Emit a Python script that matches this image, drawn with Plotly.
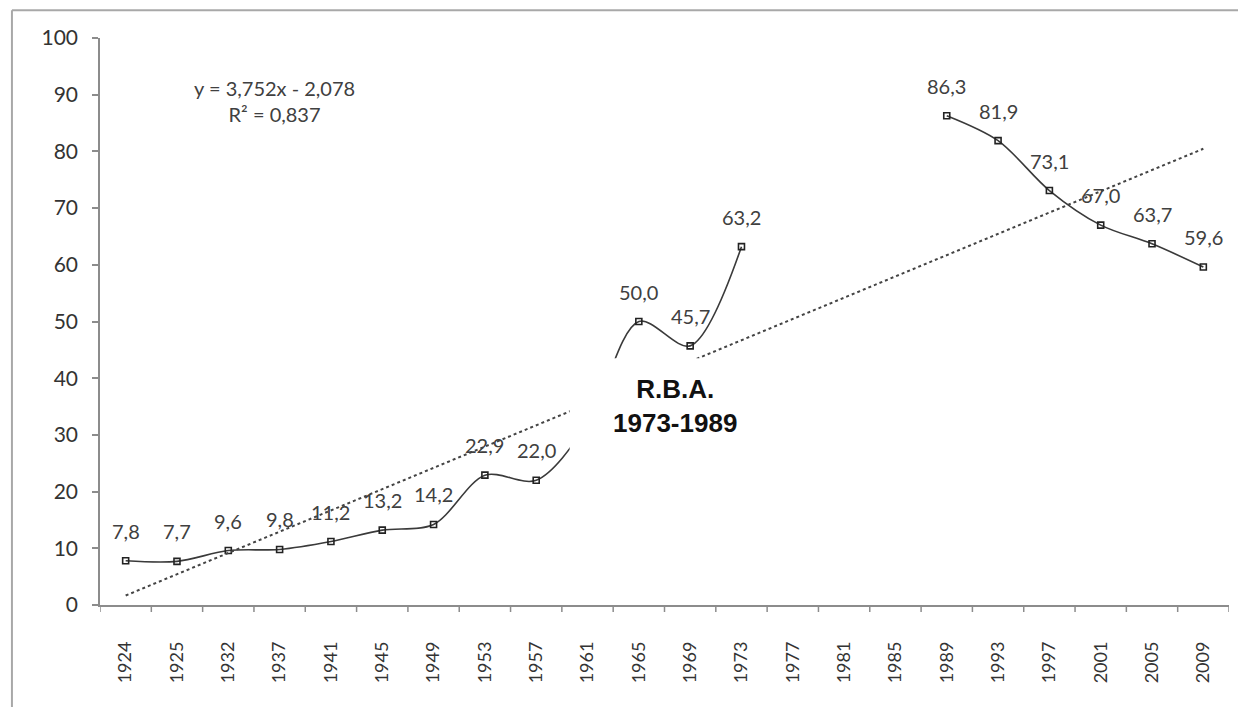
import plotly.graph_objects as go

# category axis (years) and the series values; None = no data for that year
years = ["1924", "1925", "1932", "1937", "1941", "1945", "1949", "1953", "1957",
         "1961", "1965", "1969", "1973", "1977", "1981", "1985", "1989", "1993",
         "1997", "2001", "2005", "2009"]
values = [7.8, 7.7, 9.6, 9.8, 11.2, 13.2, 14.2, 22.9, 22.0,
          32.0, 50.0, 45.7, 63.2, None, None, None, 86.3, 81.9,
          73.1, 67.0, 63.7, 59.6]
# the 1961 point sits under the pasted R.B.A. box, so its label is not shown
hidden_labels = ["1961"]

# linear trendline as printed on the chart
trend_slope = 3.752
trend_intercept = -2.078
trend_r2 = 0.837

y_ticks = list(range(0, 101, 10))


def comma(v, digits=1):
    return f"{v:.{digits}f}".replace(".", ",")


n = len(years)
trend_values = [trend_slope * (i + 1) + trend_intercept for i in range(n)]

fig = go.Figure()

# main series, smoothed like the Excel original
fig.add_trace(go.Scatter(
    x=years, y=values,
    mode="lines+markers",
    line=dict(color="#3a3a3a", width=1.6, shape="spline", smoothing=0.9),
    marker=dict(symbol="square-open", size=6, color="#222222",
                line=dict(color="#222222", width=1.6)),
    connectgaps=False,
    hoverinfo="x+y",
))

# dotted linear trendline
fig.add_trace(go.Scatter(
    x=years, y=trend_values,
    mode="lines",
    line=dict(color="#444444", width=2, dash="dot"),
    hoverinfo="skip",
))

label_font = dict(family="Lato, Open Sans, sans-serif", size=20, color="#404040")
annotations = []
for i, (yr, v) in enumerate(zip(years, values)):
    if v is None or yr in hidden_labels:
        continue
    # category axis: place by index, plotly reads "1924" as a position otherwise
    annotations.append(dict(x=i, y=v, text=comma(v), showarrow=False,
                            xanchor="center", yanchor="middle",
                            yshift=30, font=label_font))

eq_text = (f"y = {comma(trend_slope, 3)}x - {comma(abs(trend_intercept), 3)}<br>"
           f"R² = {comma(trend_r2, 3)}")
annotations.append(dict(
    xref="paper", yref="paper", x=0.155, y=0.889,
    xanchor="center", yanchor="middle",
    text=eq_text, showarrow=False, align="center",
    font=dict(family="Lato, Open Sans, sans-serif", size=20, color="#404040"),
))

annotations.append(dict(
    xref="paper", yref="paper", x=0.509, y=0.351,
    xanchor="center", yanchor="middle",
    text="<b>R.B.A.<br>1973-1989</b>", showarrow=False, align="center",
    font=dict(family="Liberation Sans, Arial, sans-serif", size=26, color="#111111"),
))

# Excel-style short ticks between categories, 7px below the axis line
boundary_ticks = [
    dict(type="line", xref="x", yref="paper", ysizemode="pixel", yanchor=0,
         x0=i - 0.5, x1=i - 0.5, y0=0, y1=-7,
         line=dict(color="#8c8c8c", width=1.5))
    for i in range(n + 1)
]

# rotated year labels sit well below the axis in the original; pad with nbsp
x_ticktext = [yr + "\u00a0" * 6 for yr in years]

fig.update_layout(
    width=1238, height=699,
    margin=dict(l=92, r=17, t=30, b=102),
    paper_bgcolor="white", plot_bgcolor="white",
    showlegend=False,
    font=dict(family="Lato, Open Sans, sans-serif", size=18, color="#333333"),
    annotations=annotations,
    shapes=[
        # white text box pasted over the chart
        dict(type="rect", xref="paper", yref="paper",
             x0=0.416, x1=0.589, y0=0.025, y1=0.435,
             fillcolor="white", line=dict(width=0), layer="above"),
        # outer chart border (top and left)
        dict(type="line", xref="paper", yref="paper",
             x0=-0.078, x1=1.03, y0=1.049, y1=1.049,
             line=dict(color="#a8a8a8", width=2)),
        dict(type="line", xref="paper", yref="paper",
             x0=-0.078, x1=-0.078, y0=1.049, y1=-0.2,
             line=dict(color="#a8a8a8", width=2)),
    ] + boundary_ticks,
    xaxis=dict(
        type="category", range=[-0.5, n - 0.5],
        tickvals=years, ticktext=x_ticktext,
        tickangle=-90, ticks="",
        showline=True, linecolor="#8c8c8c", linewidth=1.5,
        showgrid=False, zeroline=False,
        tickfont=dict(size=18, color="#333333"),
    ),
    yaxis=dict(
        range=[0, 100], tickvals=y_ticks,
        ticks="outside", ticklen=6, tickcolor="#8c8c8c", tickwidth=1.5,
        ticklabelstandoff=10,
        showline=True, linecolor="#8c8c8c", linewidth=1.5,
        showgrid=False, zeroline=False,
        tickfont=dict(size=21, color="#333333"),
    ),
)

fig.write_html("out.html")
